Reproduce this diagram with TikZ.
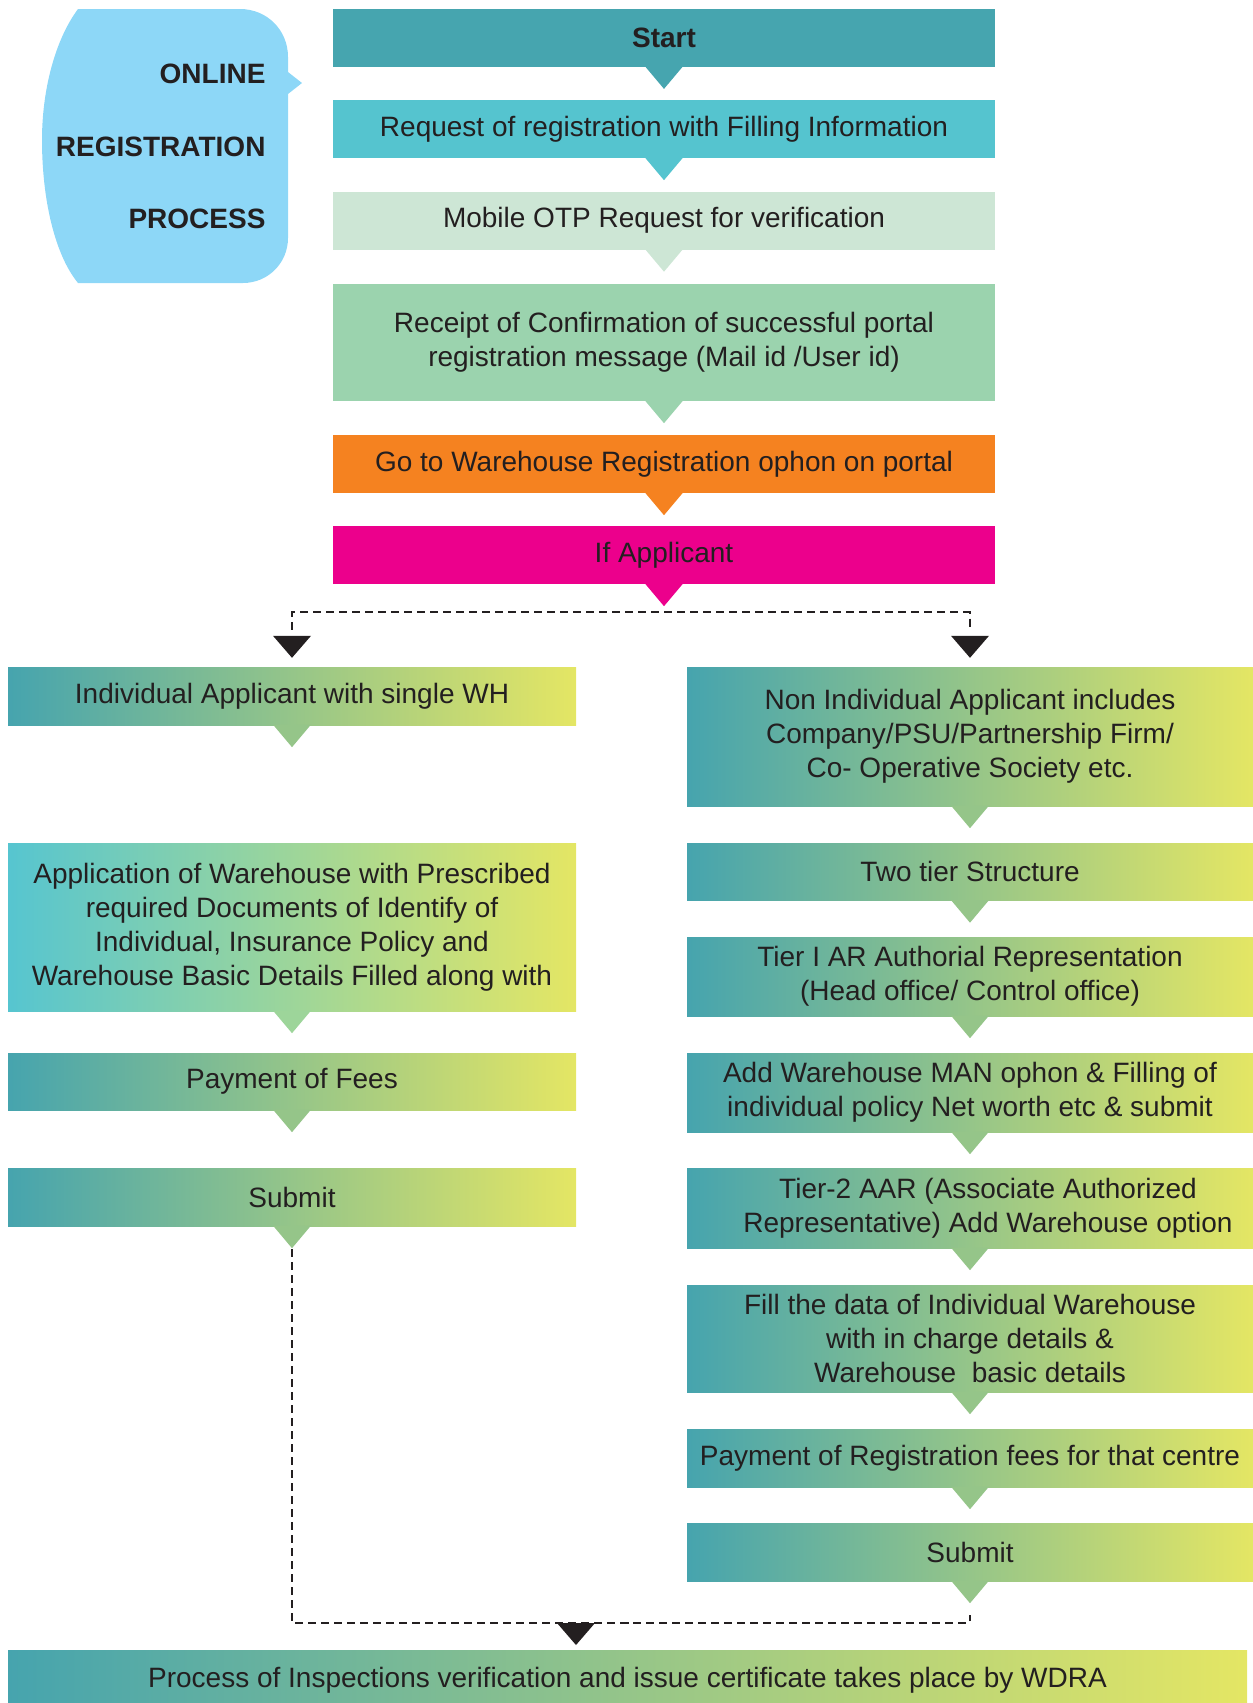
\documentclass[tikz,border=0pt]{standalone}
\usepackage{fontspec}
\setmainfont{Liberation Sans}
\definecolor{txt}{HTML}{231F20}
\definecolor{cStart}{HTML}{46A5AF}
\definecolor{cReq}{HTML}{55C4CF}
\definecolor{cOtp}{HTML}{CDE6D5}
\definecolor{cRec}{HTML}{9BD3AE}
\definecolor{cGo}{HTML}{F58220}
\definecolor{cIf}{HTML}{EC008C}
\definecolor{cBub}{HTML}{8DD7F7}
\definecolor{gL}{HTML}{46A4AE}
\definecolor{gC}{HTML}{56C5D0}
\definecolor{gR}{HTML}{E4E664}
\newcommand{\tipdown}[2]{\fill[#2] ([xshift=-19pt,yshift=0.6pt]#1.south) -- ([yshift=-22pt]#1.south) -- ([xshift=19pt,yshift=0.6pt]#1.south) -- cycle;}
\newcommand{\headdown}[1]{\fill[txt] (#1) -- ++(-19,-22) -- ++(38,0) -- cycle;}
\begin{document}
\begin{tikzpicture}[x=1pt,y=-1pt,
  stepbox/.style={rectangle, inner sep=0pt, align=center, text=txt, font=\fontsize{28}{34}\selectfont},
  topbox/.style={stepbox, minimum width=662pt},
  gradbox/.style={stepbox, left color=gL, right color=gR},
  dashline/.style={draw=txt, line width=2pt, dash pattern=on 8pt off 5pt}]
\useasboundingbox (0,0) rectangle (1253,1703);

\fill[cBub] (78,9) -- (240,9) .. controls (267,9) and (288,30) .. (288,57) -- (288,72) -- (302,83) -- (288,94) -- (288,238) .. controls (288,263) and (268,283) .. (243,283) -- (78,283) .. controls (55,255) and (42,200) .. (42,140) .. controls (42,90) and (55,40) .. (78,9) -- cycle;
\node[anchor=base east, text=txt, font=\fontsize{28}{34}\selectfont\bfseries] (bub0) at (269,83){ONLINE};
\node[anchor=base east, text=txt, font=\fontsize{28}{34}\selectfont\bfseries] (bub1) at (269,156){REGISTRATION};
\node[anchor=base east, text=txt, font=\fontsize{28}{34}\selectfont\bfseries] (bub2) at (269,228){PROCESS};

\node[topbox, fill=cStart, minimum height=57.7pt, font=\fontsize{28}{34}\selectfont\bfseries] (stp0) at (664,37.85){Start};
\node[topbox, fill=cReq, minimum height=58pt] (stp1) at (664,129){Request of registration with Filling Information};
\node[topbox, fill=cOtp, minimum height=57.5pt] (stp2) at (664,220.75){Mobile OTP Request for verification};
\node[topbox, fill=cRec, minimum height=117pt] (stp3) at (664,342.5){Receipt of Confirmation of successful portal\\registration message (Mail id /User id)};
\node[topbox, fill=cGo, minimum height=58pt] (stp4) at (664,464){Go to Warehouse Registration ophon on portal};
\node[topbox, fill=cIf, minimum height=58pt] (stp5) at (664,555){If Applicant};
\tipdown{stp0}{cStart}
\tipdown{stp1}{cReq}
\tipdown{stp2}{cOtp}
\tipdown{stp3}{cRec}
\tipdown{stp4}{cGo}
\tipdown{stp5}{cIf}

\node[gradbox, minimum width=568pt, minimum height=58pt] (ind0) at (292,696){Individual Applicant with single WH};
\node[gradbox, left color=gC, minimum width=568pt, minimum height=168pt] (ind1) at (292,927){Application of Warehouse with Prescribed\\required Documents of Identify of\\Individual, Insurance Policy and\\Warehouse Basic Details Filled along with};
\node[gradbox, minimum width=568pt, minimum height=57pt] (ind2) at (292,1081.5){Payment of Fees};
\node[gradbox, minimum width=568pt, minimum height=58pt] (ind3) at (292,1197){Submit};
\tipdown{ind0}{gL!50!gR}
\tipdown{ind1}{gC!50!gR}
\tipdown{ind2}{gL!50!gR}
\tipdown{ind3}{gL!50!gR}

\node[gradbox, minimum width=566pt, minimum height=139pt] (non0) at (970,736.5){Non Individual Applicant includes\\Company/PSU/Partnership Firm/\\Co- Operative Society etc.};
\node[gradbox, minimum width=566pt, minimum height=57.5pt] (non1) at (970,871.75){Two tier Structure};
\node[gradbox, minimum width=566pt, minimum height=79pt] (non2) at (970,976.5){Tier I AR Authorial Representation\\(Head office/ Control office)};
\node[gradbox, minimum width=566pt, minimum height=79pt] (non3) at (970,1092.5){Add Warehouse MAN ophon \& Filling of\\individual policy Net worth etc \& submit};
\node[gradbox, minimum width=566pt, minimum height=80pt] (non4) at (970,1208){\hspace*{36pt}Tier-2 AAR (Associate Authorized\\\hspace*{36pt}Representative) Add Warehouse option};
\node[gradbox, minimum width=566pt, minimum height=107pt] (non5) at (970,1338.5){Fill the data of Individual Warehouse\\with in charge details \&\\Warehouse~ basic details};
\node[gradbox, minimum width=566pt, minimum height=58pt] (non6) at (970,1458){Payment of Registration fees for that centre};
\node[gradbox, minimum width=566pt, minimum height=58pt] (non7) at (970,1552){Submit};
\tipdown{non0}{gL!50!gR}
\tipdown{non1}{gL!50!gR}
\tipdown{non2}{gL!50!gR}
\tipdown{non3}{gL!50!gR}
\tipdown{non4}{gL!50!gR}
\tipdown{non5}{gL!50!gR}
\tipdown{non6}{gL!50!gR}
\tipdown{non7}{gL!50!gR}

\node[gradbox, minimum width=1239pt, minimum height=53pt, text height=28pt, text depth=6pt] (fin) at (627.5,1676.5){Process of Inspections verification and issue certificate takes place by WDRA};

\draw[dashline] ([yshift=37pt]ind0.north) |- ([yshift=-28pt]stp5.south) -| ([yshift=37pt]non0.north);
\headdown{[yshift=9pt]ind0.north}
\headdown{[yshift=9pt]non0.north}
\draw[dashline] ([yshift=-23pt]ind3.south) |- ([yshift=27pt]fin.north) -| ([yshift=-34pt]non7.south);
\coordinate (hd2) at (576,1645);
\headdown{hd2}

\end{tikzpicture}
\end{document}
